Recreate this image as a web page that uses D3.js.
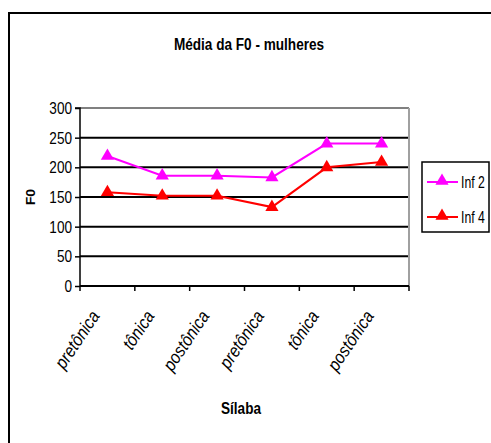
<!DOCTYPE html>
<html>
<head>
<meta charset="utf-8">
<script src="https://cdn.jsdelivr.net/npm/d3@7"></script>
<style>
  body { margin: 0; background: #fff; }
  svg { display: block; }
  text { font-family: "Liberation Sans", Arial, sans-serif; fill: #000; }
</style>
</head>
<body>
<svg id="chart" width="491" height="443"></svg>
<script>
// Syllable categories along the x axis
const categories = ["pretônica", "tônica", "postônica", "pretônica", "tônica", "postônica"];
// Mean F0 values per informant
const inf2 = [219, 186, 186, 183, 240, 240];
const inf4 = [158, 152, 152, 133, 200, 209];
const seriesNames = ["Inf 2", "Inf 4"];
const seriesColors = ["#ff00ff", "#ff0000"];
const yTicks = [0, 50, 100, 150, 200, 250, 300];

const svg = d3.select("#chart");
const W = 491, H = 443;
const plot = { left: 80, right: 409, top: 108, bottom: 286 };
const NARROW = 0.8; // horizontal squeeze for the condensed lettering

// Outer chart frame (left and top edges visible)
svg.append("rect").attr("x", 9).attr("y", 13).attr("width", W + 10).attr("height", H + 10)
  .attr("fill", "#fff").attr("stroke", "#000").attr("stroke-width", 2);

const x = d3.scaleBand().domain(d3.range(categories.length)).range([plot.left, plot.right]);
const y = d3.scaleLinear().domain([0, 300]).range([plot.bottom, plot.top]);

// Horizontal gridlines
svg.append("g").selectAll("line").data(yTicks.filter(v => v > 0 && v < 300)).join("line")
  .attr("x1", plot.left).attr("x2", plot.right)
  .attr("y1", d => y(d)).attr("y2", d => y(d))
  .attr("stroke", "#000").attr("stroke-width", 2);

// Plot area border: grey top and right
svg.append("line").attr("x1", plot.left).attr("x2", plot.right).attr("y1", y(300)).attr("y2", y(300))
  .attr("stroke", "#808080").attr("stroke-width", 2);
svg.append("line").attr("x1", plot.right).attr("x2", plot.right).attr("y1", plot.top).attr("y2", plot.bottom)
  .attr("stroke", "#a0a0a0").attr("stroke-width", 2);

// Y axis
const yAxis = d3.axisLeft(y).tickValues(yTicks).tickSize(5).tickPadding(3);
const gy = svg.append("g").attr("transform", `translate(${plot.left},0)`).call(yAxis);
gy.select(".domain").attr("stroke", "#000").attr("stroke-width", 1.5).attr("d", `M-5,${plot.top}H0V${plot.bottom}`);
gy.selectAll(".tick line").attr("stroke", "#000").attr("stroke-width", 1.5);
gy.selectAll(".tick text").attr("font-size", 17).attr("fill", "#000")
  .attr("font-family", '"Liberation Sans", Arial, sans-serif')
  .attr("x", null).attr("transform", `translate(-8,0) scale(${NARROW},1)`);

// X axis: ticks at category boundaries
const xBounds = d3.range(categories.length + 1).map(i => plot.left + i * x.bandwidth());
svg.append("line").attr("x1", plot.left).attr("x2", plot.right).attr("y1", plot.bottom).attr("y2", plot.bottom)
  .attr("stroke", "#000").attr("stroke-width", 2);
svg.append("g").selectAll("line").data(xBounds).join("line")
  .attr("x1", d => d).attr("x2", d => d).attr("y1", plot.bottom).attr("y2", plot.bottom + 5)
  .attr("stroke", "#000").attr("stroke-width", 1.5);

// Rotated category labels
svg.append("g").selectAll("text").data(categories).join("text")
  .attr("transform", (d, i) => `translate(${x(i) + x.bandwidth() / 2 - 7},${plot.bottom + 30}) rotate(-56) scale(0.88,1)`)
  .attr("text-anchor", "end").attr("font-style", "italic").attr("font-size", 18)
  .text(d => d);

// Lines and triangle markers
const line = d3.line().x((d, i) => x(i) + x.bandwidth() / 2).y(d => y(d));
const tri = d3.symbol().type(d3.symbolTriangle).size(75);
[inf2, inf4].forEach((vals, s) => {
  svg.append("path").datum(vals).attr("d", line).attr("fill", "none")
    .attr("stroke", seriesColors[s]).attr("stroke-width", 2);
  svg.append("g").selectAll("path").data(vals).join("path")
    .attr("d", tri)
    .attr("transform", (d, i) => `translate(${x(i) + x.bandwidth() / 2},${y(d)})`)
    .attr("fill", seriesColors[s]);
});

// Title and axis titles
svg.append("text").attr("transform", `translate(249,50) scale(${NARROW},1)`).attr("text-anchor", "middle")
  .attr("font-weight", "bold").attr("font-size", 17).text("Média da F0 - mulheres");
svg.append("text").attr("transform", "translate(35,197) rotate(-90) scale(1,0.9)").attr("text-anchor", "middle")
  .attr("font-weight", "bold").attr("font-size", 14).text("F0");
svg.append("text").attr("transform", `translate(241,414) scale(${NARROW},1)`).attr("text-anchor", "middle")
  .attr("font-weight", "bold").attr("font-size", 17).text("Sílaba");

// Legend
const lg = svg.append("g");
lg.append("rect").attr("x", 422).attr("y", 162).attr("width", 67).attr("height", 70)
  .attr("fill", "#fff").attr("stroke", "#000").attr("stroke-width", 1.5);
seriesNames.forEach((name, s) => {
  const ly = 182 + s * 35;
  lg.append("line").attr("x1", 427).attr("x2", 458).attr("y1", ly).attr("y2", ly)
    .attr("stroke", seriesColors[s]).attr("stroke-width", 2);
  lg.append("path").attr("d", tri).attr("transform", `translate(442,${ly - 1})`).attr("fill", seriesColors[s]);
  lg.append("text").attr("transform", `translate(461,${ly + 6}) scale(0.72,1)`).attr("font-size", 17).text(name);
});
</script>
</body>
</html>
